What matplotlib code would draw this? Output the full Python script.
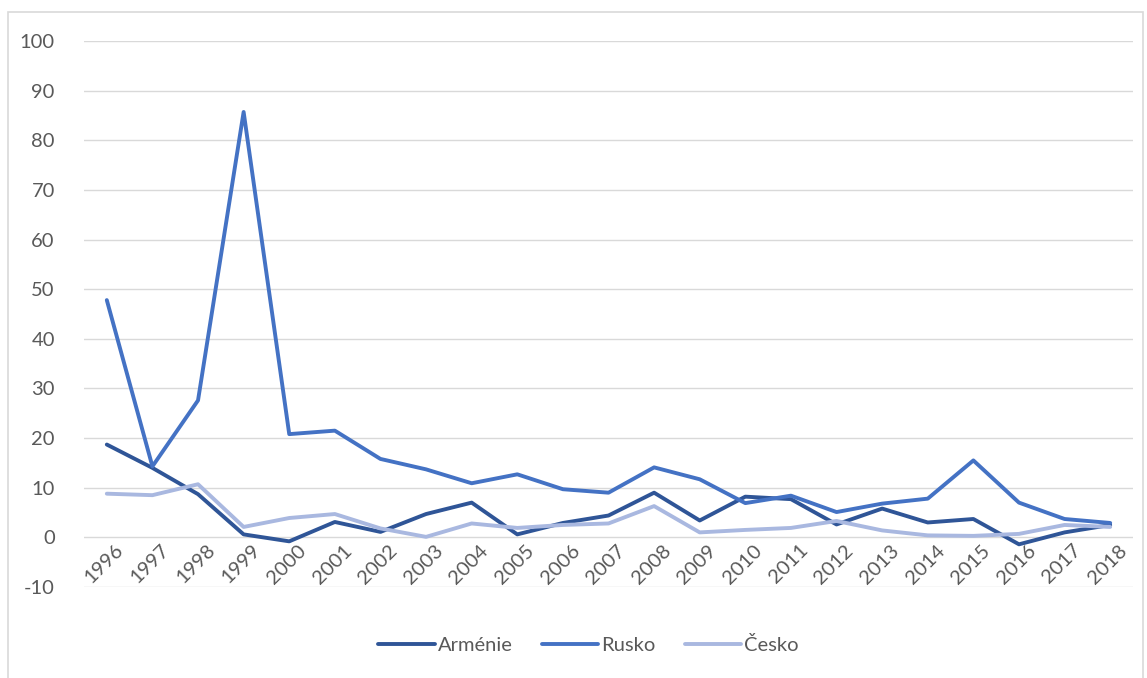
import numpy as np
import matplotlib.pyplot as plt
from matplotlib.patches import Rectangle
import matplotlib.transforms as mtransforms

plt.rcParams['font.family'] = ['Lato', 'DejaVu Sans']
plt.rcParams['axes.unicode_minus'] = False

#years on category axis
years = [str(y) for y in range(1996, 2019)]

#inflation values
armenie = [18.7, 14.0, 8.7, 0.6, -0.8, 3.1, 1.1, 4.7, 7.0, 0.6, 2.9, 4.4, 9.0,
           3.4, 8.2, 7.7, 2.6, 5.8, 3.0, 3.7, -1.4, 1.0, 2.5]
rusko = [47.8, 14.3, 27.6, 85.7, 20.8, 21.5, 15.8, 13.7, 10.9, 12.7, 9.7, 9.0, 14.1,
         11.7, 6.9, 8.4, 5.1, 6.8, 7.8, 15.5, 7.0, 3.7, 2.9]
cesko = [8.8, 8.5, 10.7, 2.1, 3.9, 4.7, 1.8, 0.1, 2.8, 1.9, 2.5, 2.8, 6.3,
         1.0, 1.5, 1.9, 3.3, 1.4, 0.4, 0.3, 0.7, 2.5, 2.1]

fig = plt.figure(figsize=(11.47, 6.78), dpi=100)
#outer chart border
fig.patches.append(Rectangle((8 / 1147, -0.01), 1135 / 1147, 1 - 12 / 678 + 0.01,
                             transform=fig.transFigure, fill=False,
                             edgecolor='#D9D9D9', linewidth=1.2))

ax = fig.add_axes([84 / 1147, 1 - 587 / 678, (1133 - 84) / 1147, (587 - 41) / 678])
x = np.arange(len(years))
ax.plot(x, armenie, color='#2F5597', linewidth=2.8, label='Arménie', solid_capstyle='round', zorder=3)
ax.plot(x, rusko, color='#4472C4', linewidth=2.8, label='Rusko', solid_capstyle='round', zorder=3)
ax.plot(x, cesko, color='#A9B8E0', linewidth=2.8, label='Česko', solid_capstyle='round', zorder=3)

ax.set_xlim(-0.5, len(years) - 0.5)
ax.set_ylim(-10, 100)
ax.set_yticks(range(-10, 101, 10))
ax.yaxis.grid(True, color='#D9D9D9', linewidth=1)
ax.set_axisbelow(True)
for s in ['top', 'right', 'left']:
    ax.spines[s].set_visible(False)
ax.spines['bottom'].set_position(('data', 0))
ax.spines['bottom'].set_visible(False)

ax.set_xticks(x)
ax.set_xticklabels(years, rotation=45, ha='right', va='top', rotation_mode='anchor')
ax.tick_params(axis='x', length=0, pad=3, labelsize=14.5, labelcolor='#595959')
ax.tick_params(axis='y', length=0, pad=21, labelsize=14.5, labelcolor='#595959')
offset = mtransforms.ScaledTranslation(8 / 100, 0, fig.dpi_scale_trans)
for lbl in ax.get_xticklabels():
    lbl.set_transform(lbl.get_transform() + offset)

ax.legend(loc='center', bbox_to_anchor=(0.481, -0.107), ncol=3, frameon=False,
          fontsize=14.5, labelcolor='#595959', handlelength=2.8, handletextpad=0.15,
          columnspacing=1.45)

plt.savefig('out.png', dpi=100)
